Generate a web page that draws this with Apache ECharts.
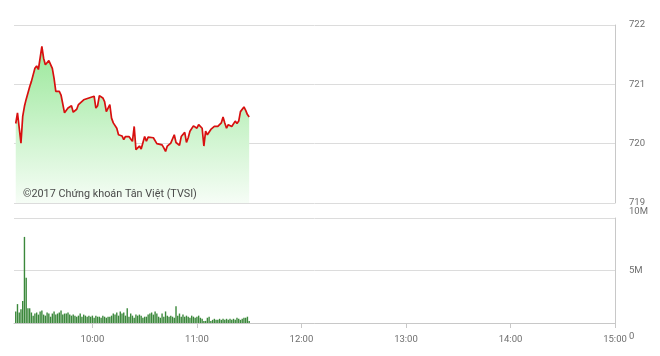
<!DOCTYPE html>
<html><head><meta charset="utf-8">
<script src="https://cdn.jsdelivr.net/npm/echarts@6/dist/echarts.min.js"></script>
<style>html,body{margin:0;padding:0;background:#fff}#c{width:660px;height:356px}</style>
</head><body><div id="c"></div>
<script>
// Price (VN-Index intraday), minute time and value
const priceTimes = ["09:16","09:17","09:19","09:20","09:21","09:22","09:24","09:25","09:27","09:28","09:29","09:31","09:32","09:33","09:34","09:35","09:37","09:38","09:39","09:40","09:41","09:42","09:44","09:45","09:46","09:48","09:49","09:51","09:52","09:53","09:55","09:56","09:58","09:59","10:01","10:02","10:03","10:04","10:06","10:07","10:08","10:10","10:11","10:12","10:13","10:14","10:15","10:17","10:18","10:19","10:21","10:22","10:23","10:24","10:25","10:27","10:28","10:30","10:31","10:32","10:33","10:35","10:36","10:37","10:38","10:40","10:41","10:42","10:43","10:45","10:46","10:47","10:48","10:49","10:50","10:51","10:53","10:54","10:55","10:56","10:58","10:59","11:00","11:01","11:03","11:04","11:05","11:06","11:08","11:09","11:10","11:11","11:12","11:14","11:15","11:16","11:17","11:18","11:19","11:20","11:22","11:23","11:24","11:25","11:26","11:27","11:28","11:29","11:30"];
const priceValues = [720.34,720.52,720.01,720.46,720.63,720.75,720.96,721.05,721.27,721.31,721.25,721.64,721.44,721.33,721.36,721.40,721.27,721.10,720.88,720.85,720.88,720.82,720.52,720.53,720.60,720.64,720.53,720.58,720.66,720.64,720.74,720.75,720.77,720.74,720.80,720.60,720.64,720.81,720.77,720.71,720.54,720.66,720.43,720.35,720.38,720.26,720.15,720.13,720.07,720.12,720.12,720.08,720.04,720.29,719.90,719.96,719.91,720.12,720.04,720.11,720.10,720.10,720.07,720.00,720.01,719.98,719.93,719.87,719.96,720.01,720.02,720.15,720.02,720.00,719.97,720.12,720.19,720.02,720.10,720.21,720.30,720.28,720.26,720.32,720.26,719.96,720.21,720.15,720.24,720.26,720.29,720.30,720.29,720.35,720.45,720.35,720.26,720.32,720.35,720.29,720.38,720.34,720.38,720.54,720.57,720.62,720.56,720.49,720.45];
// Volume per minute (millions), first bar at 09:16
const volStart = "09:16";
const volValues = [1.1,1.8,1.0,1.3,2.1,8.2,4.3,1.4,1.4,1.0,0.7,0.9,1.0,0.8,1.1,1.2,0.8,0.7,1.0,0.9,0.6,0.9,1.1,0.8,0.9,1.0,1.2,0.8,0.9,0.9,1.0,0.8,0.7,0.8,0.7,0.6,0.7,0.9,0.6,0.8,0.7,0.6,0.7,0.6,0.7,0.5,0.7,0.6,0.6,0.5,0.7,0.6,0.5,0.6,0.6,0.7,0.9,0.8,1.0,0.7,1.1,0.9,1.0,0.7,1.4,0.6,0.9,0.7,0.5,0.8,0.7,0.8,0.7,0.5,0.6,0.6,0.8,0.9,1.0,0.8,1.1,0.9,0.6,0.5,0.9,0.6,1.1,0.7,0.6,0.7,0.6,0.5,1.6,0.7,0.9,0.6,0.8,0.6,0.7,0.6,0.5,0.7,0.6,0.5,0.6,0.7,0.5,0.4,0.2,0.2,0.5,0.6,0.2,0.3,0.4,0.3,0.3,0.4,0.3,0.4,0.3,0.4,0.3,0.4,0.3,0.4,0.3,0.5,0.4,0.3,0.4,0.5,0.5,0.6,0.2];
const timeTicks = ["10:00","11:00","12:00","13:00","14:00","15:00"];
const axisStart = "09:15", axisEnd = "15:00";
const priceTicks = [719, 722, 1];   // min, max, interval
const volTicks = [0, 10, 5];        // millions
const watermark = "©2017 Chứng khoán Tân Việt (TVSI)";

function toMin(t){const p=t.split(':');return (+p[0])*60+(+p[1]);}
function fmt(m){const h=Math.floor(m/60),mm=m%60;return String(h).padStart(2,'0')+':'+String(mm).padStart(2,'0');}
const v0 = toMin(volStart);
const priceData = priceTimes.map((t,i)=>[toMin(t),priceValues[i]]);
const volData = volValues.map((v,i)=>[v0+i,v]);
const tickMins = timeTicks.map(toMin);

const chart = echarts.init(document.getElementById('c'));
const grid = '#dcdcdc', border = '#c8c8c8', lab = '#6e6e6e';
const FONT = 'Roboto';
chart.setOption({
  animation:false,
  textStyle:{fontFamily:FONT},
  grid:[
    {left:14,right:45,top:25,height:178},
    {left:14,right:45,top:218,height:105}
  ],
  xAxis:[
    {type:'value',gridIndex:0,min:toMin(axisStart),max:toMin(axisEnd),
      axisLine:{show:false},axisTick:{show:false},axisLabel:{show:false},splitLine:{show:false}},
    {type:'value',gridIndex:1,min:toMin(axisStart),max:toMin(axisEnd),
      axisLine:{show:true,lineStyle:{color:border,width:1}},
      axisTick:{show:true,length:5,lineStyle:{color:border},customValues:tickMins},
      axisLabel:{show:true,color:lab,fontSize:9.5,fontFamily:FONT,margin:12,customValues:tickMins,formatter:v=>fmt(v)},
      splitLine:{show:false}}
  ],
  yAxis:[
    {type:'value',gridIndex:0,position:'right',min:priceTicks[0],max:priceTicks[1],interval:priceTicks[2],
      axisLine:{show:true,lineStyle:{color:border}},axisTick:{show:false},
      axisLabel:{color:lab,fontSize:9.5,fontFamily:FONT,margin:14,align:'left',padding:[3,0,0,0]},
      splitLine:{show:true,lineStyle:{color:grid,width:1}}},
    {type:'value',gridIndex:1,position:'right',min:volTicks[0],max:volTicks[1],interval:volTicks[2],
      axisLine:{show:true,lineStyle:{color:border}},axisTick:{show:false},
      axisLabel:{color:lab,fontSize:9.5,fontFamily:FONT,margin:14,align:'left',
        formatter:v=>{ if(v===volTicks[1]) return '{up|'+v+'M}'; if(v===0) return '{dn|0}'; return v+'M'; },
        rich:{up:{padding:[0,0,13,0],color:lab,fontSize:9.5,fontFamily:FONT},dn:{padding:[28,0,0,0],color:lab,fontSize:9.5,fontFamily:FONT}}},
      splitLine:{show:true,lineStyle:{color:grid,width:1}}}
  ],
  series:[
    {type:'line',xAxisIndex:0,yAxisIndex:0,data:priceData,symbol:'none',
      lineStyle:{color:'#d80f0f',width:1.7},
      areaStyle:{origin:'start',opacity:1,color:new echarts.graphic.LinearGradient(0,0,0,1,[{offset:0,color:'#9ae89a'},{offset:1,color:'#f6fdf6'}])}},
    {type:'bar',xAxisIndex:1,yAxisIndex:1,data:volData,barWidth:1.4,
      itemStyle:{color:'#3b883b'}}
  ],
  graphic:[{type:'text',z:100,left:23,top:189,style:{text:watermark,fill:'#4a4a4a',font:'10.8px Roboto'}}]
});
</script></body></html>
